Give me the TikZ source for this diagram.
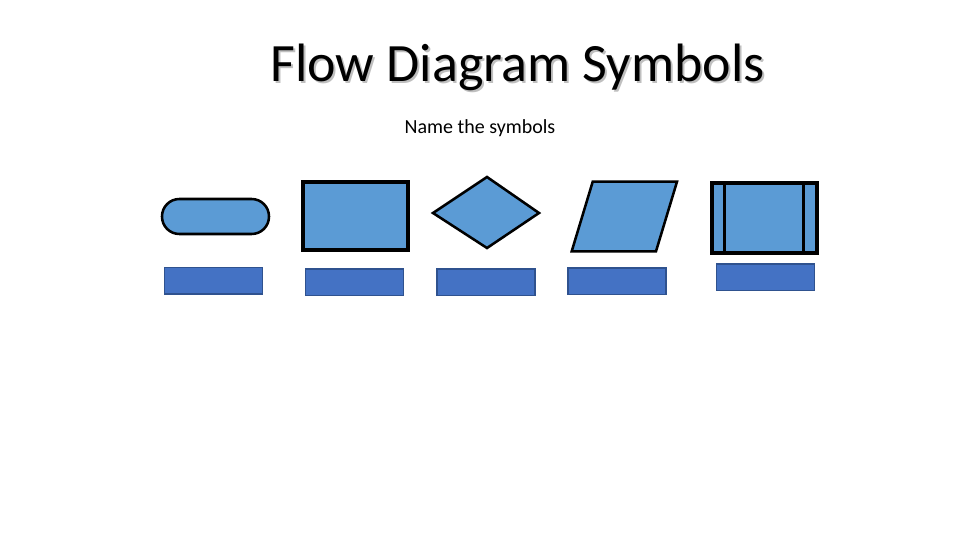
\documentclass[tikz,border=0pt]{standalone}
\usepackage{fontspec}
\setmainfont{Carlito}
\usetikzlibrary{calc}
\definecolor{symfill}{HTML}{5B9BD5}
\definecolor{boxfill}{HTML}{4472C4}
\definecolor{boxline}{HTML}{2F528F}

\begin{document}
\begin{tikzpicture}[x=0.75pt,y=-0.75pt,
  symbol/.style={draw=black,fill=symfill,line width=1.9pt,line join=round},
  heavy/.style={symbol,line width=3pt,line join=miter},
  namebox/.style={draw=boxline,fill=boxfill,line width=1.2pt,minimum width=73.5pt,minimum height=20pt,inner sep=0pt}]
\useasboundingbox (0,0) rectangle (960,540);

% heading
\node[text=black!25] at (519.5,69.5) {\fontsize{40.5}{48}\selectfont Flow Diagram Symbols};
\node (title) at (517.5,67.5) {\fontsize{40.5}{48}\selectfont Flow Diagram Symbols};
\node (sub) at (480,128) {\fontsize{15}{18}\selectfont Name the symbols};

% terminator
\coordinate (term1) at (162,199);
\coordinate (term2) at (269,234);
\draw[symbol,rounded corners=13pt] (term1) rectangle (term2);

% process
\coordinate (proc1) at (303,182);
\coordinate (proc2) at (408,250);
\draw[heavy] (proc1) rectangle (proc2);

% decision
\coordinate (decL) at (433,213);
\coordinate (decT) at (487,177);
\coordinate (decR) at (539,213);
\coordinate (decB) at (487,248);
\draw[symbol,line join=miter] (decL) -- (decT) -- (decR) -- (decB) -- cycle;

% input / output
\coordinate (io1) at (592.7,181.7);
\coordinate (io2) at (677,181.7);
\coordinate (io3) at (656,251.3);
\coordinate (io4) at (571.7,251.3);
\draw[symbol,line join=miter] (io1) -- (io2) -- (io3) -- (io4) -- cycle;

% predefined process
\coordinate (pre1) at (711.5,183);
\coordinate (pre2) at (816.5,253);
\draw[heavy] (pre1) rectangle (pre2);
\draw[line width=2.4pt] (724.3,183) -- (724.3,253);
\draw[line width=2.4pt] (803.5,183) -- (803.5,253);

% answer boxes
\foreach \cx/\cy [count=\i] in {213.3/280.9, 354.5/282.3, 485.8/282.3, 617.2/281.3, 765.3/277.2}
  {
  \node[namebox] (name\i) at (\cx,\cy) {};
  }
\end{tikzpicture}
\end{document}
